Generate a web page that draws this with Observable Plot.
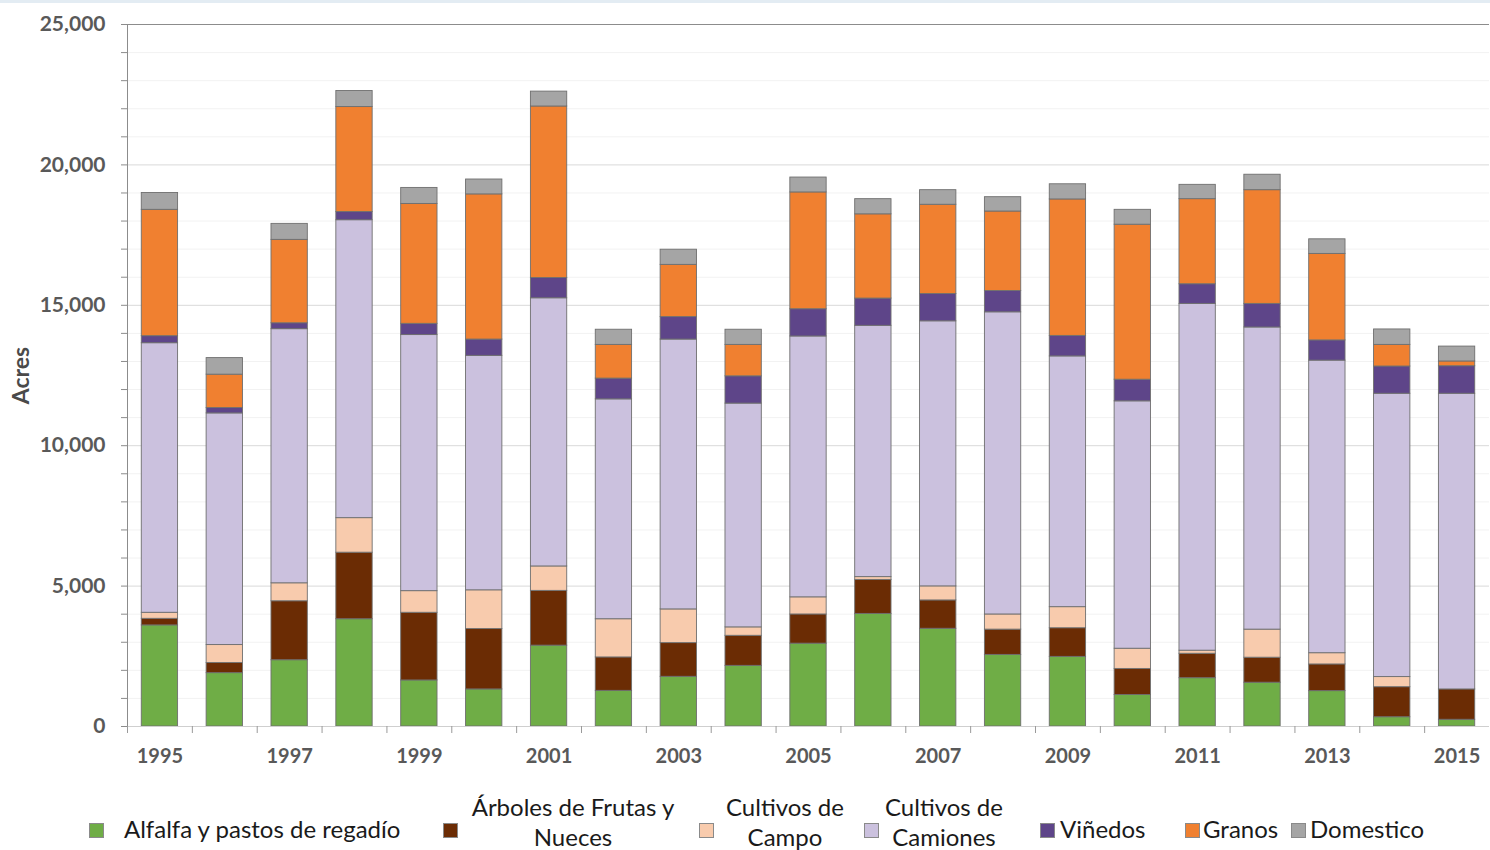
<!DOCTYPE html>
<html><head><meta charset="utf-8">
<script src="https://cdn.jsdelivr.net/npm/d3@7"></script>
<script src="https://cdn.jsdelivr.net/npm/@observablehq/plot@0.6"></script>
<style>
body{margin:0;background:#fff;font-family:Lato,sans-serif;}
#wrap{position:relative;width:1490px;height:850px;overflow:hidden;background:#fff;}
#topbar{position:absolute;left:0;top:0;width:1490px;height:3px;background:#e3ecf3;}
#legend{position:absolute;left:0;top:775px;width:1490px;height:75px;}
.sw{position:absolute;width:15px;height:15px;border:1px solid #8a8a8a;box-sizing:border-box;}
.lt{position:absolute;font-size:24px;color:#1a1a1a;line-height:30px;white-space:nowrap;}
</style></head>
<body><div id="wrap"><div id="chart"></div><div id="topbar"></div><div id="legend"></div></div>
<script>
const years = [1995,1996,1997,1998,1999,2000,2001,2002,2003,2004,2005,2006,2007,2008,2009,2010,2011,2012,2013,2014,2015];
const categories = ["Alfalfa y pastos de regadío","Árboles de Frutas y Nueces","Cultivos de Campo","Cultivos de Camiones","Viñedos","Granos","Domestico"];
const legendLines = [["Alfalfa y pastos de regadío"],["Árboles de Frutas y","Nueces"],["Cultivos de","Campo"],["Cultivos de","Camiones"],["Viñedos"],["Granos"],["Domestico"]];
const alfalfa   = [3600,1900,2360,3820,1640,1320,2880,1270,1770,2160,2950,4010,3480,2550,2480,1120,1720,1560,1260,330,240];
const arboles   = [235,360,2100,2370,2410,2150,1950,1190,1200,1070,1040,1210,1010,900,1020,930,870,890,950,1070,1080];
const campo     = [215,640,640,1230,770,1380,870,1360,1200,300,610,100,500,540,750,720,110,1000,400,360,0];
const camiones  = [9600,8250,9050,10610,9120,8350,9550,7830,9610,7970,9290,8950,9440,10760,8930,8810,12350,10760,10420,10090,10530];
const vinedos   = [250,190,210,290,400,580,720,740,800,970,970,970,970,760,730,770,700,840,720,970,980];
const granos    = [4500,1190,2970,3740,4270,5170,6110,1200,1860,1120,4160,3000,3180,2830,4860,5520,3030,4050,3080,770,170];
const domestico = [600,590,570,570,570,530,530,540,540,540,530,540,520,510,540,530,510,550,520,550,530];
const colors = ["#6fad46","#6b2c04","#f8cbad","#cbc1de","#5e4589","#f08030","#a5a5a5"];
const yMajor = [0,5000,10000,15000,20000,25000];

const series = [alfalfa, arboles, campo, camiones, vinedos, granos, domestico];
const rows = [];
years.forEach((yr, i) => series.forEach((s, k) => rows.push({year: yr, cat: categories[k], acres: s[i]})));

const W = 1490, H = 775, ML = 127, MR = 1, MT = 24, MB = 49;
const step = (W - ML - MR) / years.length;
const minor = d3.range(0, 25001, 1000);

const chart = Plot.plot({
  width: W, height: H,
  marginTop: MT, marginBottom: MB, marginLeft: ML, marginRight: MR,
  style: {fontFamily: "Lato, sans-serif", background: "#fff", overflow: "visible"},
  x: {type: "band", domain: years, paddingInner: 0.44, paddingOuter: 0.22, round: false, label: null},
  y: {domain: [0, 25000], label: null},
  color: {domain: categories, range: colors},
  marks: [
    Plot.ruleY(minor.filter(v => v % 5000 !== 0), {stroke: "#f2f2f2"}),
    Plot.ruleY([5000, 10000, 15000, 20000], {stroke: "#d9d9d9"}),
    Plot.barY(rows, {x: "year", y: "acres", fill: "cat", order: categories, stroke: "#6f6f6f", strokeWidth: 0.9}),
    Plot.ruleY([25000], {stroke: "#8c8c8c"}),
    Plot.ruleY([0], {stroke: "#cfcfcf"}),
    Plot.frame({anchor: "left", stroke: "#8c8c8c"}),
    Plot.axisY({ticks: minor, tickSize: 6, tickFormat: () => "", stroke: "#8c8c8c", label: null}),
    Plot.axisY({ticks: yMajor, tickSize: 0, tickPadding: 22, tickFormat: d3.format(","), fontSize: 21, fontWeight: "bold", color: "#595959", label: null}),
    Plot.axisX({ticks: years, tickSize: 7, tickFormat: () => "", dx: -step / 2, stroke: "#9a9a9a", label: null}),
    Plot.axisX({ticks: years.filter(y => y % 2 === 1), tickSize: 0, tickPadding: 22, tickFormat: d => String(d), fontSize: 20, fontWeight: "bold", color: "#595959", label: null}),
    Plot.text(["Acres"], {frameAnchor: "left", textAnchor: "middle", dx: -106, rotate: -90, fontSize: 23, fontWeight: "bold", fill: "#4a4a4a"})
  ]
});
document.getElementById("chart").appendChild(chart);

// legend (HTML, below the SVG)
const legendPos = [
  {sw: 89, tx: 124, center: false},
  {sw: 443, tx: 573, center: true},
  {sw: 699, tx: 785, center: true},
  {sw: 864, tx: 944, center: true},
  {sw: 1040, tx: 1060, center: false},
  {sw: 1185, tx: 1203, center: false},
  {sw: 1291, tx: 1310, center: false}
];
const leg = document.getElementById("legend");
categories.forEach((c, k) => {
  const p = legendPos[k];
  const sw = document.createElement("div");
  sw.className = "sw";
  sw.style.left = p.sw + "px";
  sw.style.top = "48px";
  sw.style.background = colors[k];
  leg.appendChild(sw);
  const t = document.createElement("div");
  t.className = "lt";
  const lines = legendLines[k];
  t.innerHTML = lines.join("<br>");
  if (lines.length === 1) {
    t.style.top = "39px";
    t.style.left = p.tx + "px";
  } else {
    t.style.top = "17px";
    t.style.left = p.tx + "px";
    t.style.transform = "translateX(-50%)";
    t.style.textAlign = "center";
  }
  leg.appendChild(t);
});
</script>
</body></html>
